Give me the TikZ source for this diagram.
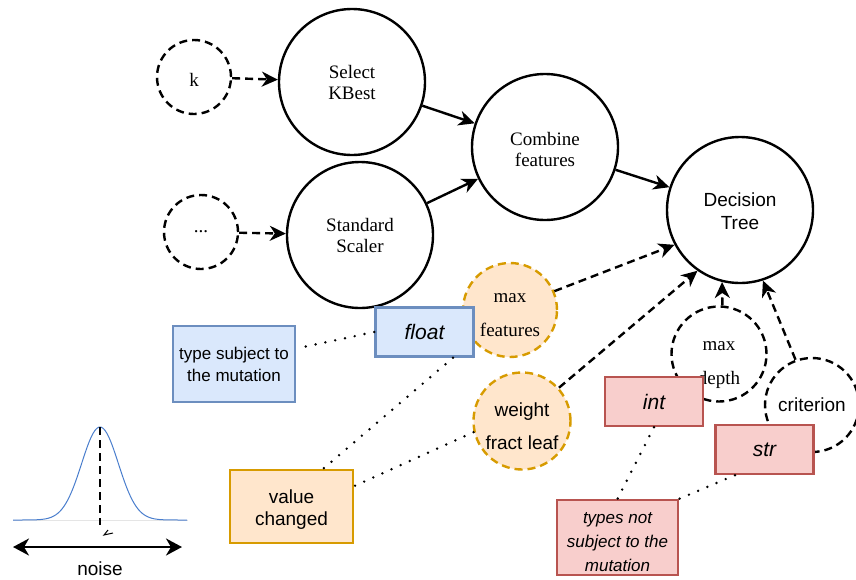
\documentclass[tikz,border=0pt]{standalone}
\usepackage{fontspec}
\setmainfont{Liberation Serif}
\setsansfont{Liberation Sans}
\usepackage{xcolor}
\usetikzlibrary{arrows.meta, positioning}

\definecolor{bluefill}{HTML}{DAE8FC}
\definecolor{bluedraw}{HTML}{6C8EBF}
\definecolor{orangefill}{HTML}{FFE6CC}
\definecolor{orangedraw}{HTML}{D79B00}
\definecolor{redfill}{HTML}{F8CECC}
\definecolor{reddraw}{HTML}{B85450}
\definecolor{gausscol}{RGB}{74,126,205}

\newcommand{\lift}[1]{\rule{0pt}{#1}}

\begin{document}
\begin{tikzpicture}[
  x=1pt, y=-1pt,
  op/.style={circle, draw, line width=2.4pt, minimum size=146pt, inner sep=0pt,
    align=center, font=\fontsize{19}{21}\selectfont},
  param/.style={op, dash pattern=on 8pt off 5pt, minimum size=74pt},
  mut/.style={param, fill=orangefill, draw=orangedraw, minimum size=94pt},
  sans/.style={font=\sffamily\fontsize{19}{23}\selectfont},
  box/.style={rectangle, draw, line width=2.4pt, inner sep=2pt, align=center,
    font=\sffamily\fontsize{17}{22}\selectfont},
  typebox/.style={box, minimum width=98pt, minimum height=49pt,
    font=\sffamily\itshape\fontsize{21}{23}\selectfont},
  bluebox/.style={fill=bluefill, draw=bluedraw},
  orangebox/.style={fill=orangefill, draw=orangedraw},
  redbox/.style={fill=redfill, draw=reddraw},
  edge/.style={-{Stealth[length=16pt, width=15pt, inset=5pt]}, line width=2.4pt},
  dedge/.style={edge, dash pattern=on 8pt off 5pt},
  note/.style={line width=2.7pt, line cap=round, dash pattern=on 0pt off 10pt}
]
\useasboundingbox (0,0) rectangle (856,579);

\node[param] (k) at (194,77) {\lift{19pt}k};
\node[op] (sel) at (352,82) {Select\\KBest};
\node[param] (dots) at (201,232) {...};
\node[op] (std) at (360,235) {Standard\\Scaler};
\node[op] (comb) at (545,147) {\lift{18pt}Combine\\features};
\node[op, sans] (dt) at (740,210) {\lift{16pt}Decision\\Tree};

\node[mut] (maxf) at (510,310) {\lift{19pt}max\\[13pt]features};
\node[mut, sans, minimum size=97pt] (wfl) at (522,421) {\lift{24pt}weight\\[10pt]fract leaf};
\node[param, minimum size=95pt] (maxd) at (719,354) {\lift{31pt}max\\[13pt]depth};
\node[param, sans, minimum size=94pt] (crit) at (812,405) {criterion};

\node[typebox, bluebox] (float) at (424.5,332) {float};
\node[box, bluebox, minimum width=122pt, minimum height=76pt] (subj) at (234,364)
  {type subject to\\the mutation};
\node[box, orangebox, font=\sffamily\fontsize{19}{22}\selectfont,
  minimum width=123pt, minimum height=73pt] (changed) at (291.5,506.5)
  {\lift{20pt}value\\changed};
\node[typebox, redbox] (int) at (654,401.5) {int};
\node[typebox, redbox] (str) at (764.5,449.5) {str};
\node[box, redbox, font=\sffamily\itshape\fontsize{17}{24}\selectfont,
  minimum width=121pt, minimum height=75pt] (notsubj) at (617.5,537.5)
  {\lift{21pt}types not\\subject to the\\mutation};

\draw[dedge] (k) -- (sel);
\draw[dedge] (dots) -- (std);
\draw[edge] (sel) -- (comb);
\draw[edge] (std) -- (comb);
\draw[edge] (comb) -- (dt);
\draw[dedge] (maxf.23) -- (dt.208);
\draw[dedge] (wfl.42) -- (dt.235);
\draw[dedge] (maxd.86) -- (dt.256);
\draw[dedge] (crit.110) -- (dt.288);

\draw[note] (float.west) -- (subj.14);
\draw[note] (float.-42) -- (changed.50);
\draw[note] (wfl.193) -- (changed.18);
\draw[note] (int.south) -- (notsubj.north);
\draw[note] (str.221) -- (notsubj.north east);

\coordinate (peak) at (100,427);
\coordinate (foot) at (100,525);
\coordinate (left) at (13,547);
\coordinate (right) at (182,547);
\draw[gray!20] (13,520) -- (188,520);
\draw[gausscol, line width=1pt] plot[domain=-87:87, samples=90, smooth]
  ({100+\x}, {520-93*exp(-(\x*\x)/677)});
\draw[line width=2.4pt, dash pattern=on 8pt off 5pt] (peak) -- (foot);
\draw[line width=1pt] (108,530) -- (104,535) -- (113,533);
\draw[{Stealth[length=16pt, width=17pt, inset=5pt]}-{Stealth[length=16pt, width=17pt, inset=5pt]},
  line width=2.4pt] (left) -- (right);
\node[sans] (noise) at (100,569) {noise};
\end{tikzpicture}
\end{document}
